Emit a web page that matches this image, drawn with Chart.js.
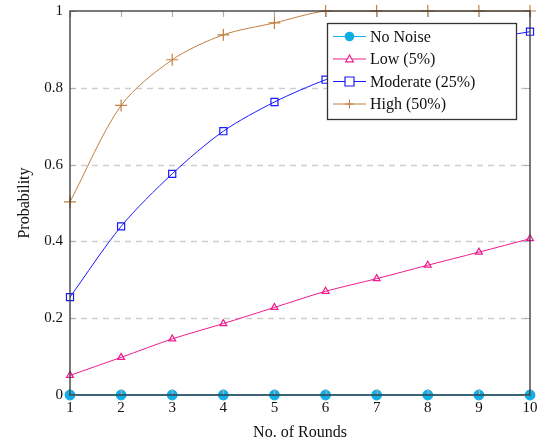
<!DOCTYPE html>
<html>
<head>
<meta charset="utf-8">
<script src="https://cdn.jsdelivr.net/npm/chart.js@4/dist/chart.umd.min.js"></script>
<style>
  html, body { margin: 0; padding: 0; background: #fff; }
  #wrap { width: 546px; height: 442px; }
</style>
</head>
<body>
<div id="wrap"><canvas id="c" width="546" height="442"></canvas></div>
<script>
// Rounds on the x axis
const rounds = [1, 2, 3, 4, 5, 6, 7, 8, 9, 10];

// Probability per round for each noise level
const noNoise  = [0, 0, 0, 0, 0, 0, 0, 0, 0, 0];
const lowNoise = [0.051, 0.098, 0.146, 0.186, 0.228, 0.270, 0.303, 0.338, 0.372, 0.407];
const modNoise = [0.255, 0.439, 0.576, 0.687, 0.763, 0.821, 0.865, 0.900, 0.925, 0.946];
const highNoise = [0.503, 0.754, 0.873, 0.938, 0.969, 1.0, 1.0, 1.0, 1.0, 1.0];

const seriesLabels = ['No Noise', 'Low (5%)', 'Moderate (25%)', 'High (50%)'];
const yTicks = [0, 0.2, 0.4, 0.6, 0.8, 1];

const FONT = '"Liberation Serif", "DejaVu Serif", serif';
const COLORS = {
  none: '#12aee8',
  low: '#ee1c8f',
  mod: '#1a1aff',
  high: '#c08040'
};

function pts(arr) { return arr.map((v, i) => ({ x: rounds[i], y: v })); }

// Draws a point-style glyph the same way in the legend
function drawMarker(ctx, style, x, y, color) {
  ctx.save();
  ctx.strokeStyle = color;
  ctx.fillStyle = color;
  ctx.lineWidth = 1.2;
  ctx.beginPath();
  if (style === 'circle') {
    ctx.arc(x, y, 4.8, 0, Math.PI * 2);
    ctx.fill();
  } else if (style === 'triangle') {
    ctx.moveTo(x, y - 4);
    ctx.lineTo(x + 3.8, y + 2.8);
    ctx.lineTo(x - 3.8, y + 2.8);
    ctx.closePath();
    ctx.fillStyle = '#fff';
    ctx.fill();
    ctx.stroke();
  } else if (style === 'rect') {
    ctx.rect(x - 4.5, y - 4.5, 9, 9);
    ctx.fillStyle = '#fff';
    ctx.fill();
    ctx.stroke();
  } else if (style === 'cross') {
    ctx.moveTo(x - 4.5, y); ctx.lineTo(x + 4.5, y);
    ctx.moveTo(x, y - 4.5); ctx.lineTo(x, y + 4.5);
    ctx.stroke();
  }
  ctx.restore();
}

// Dashed horizontal grid behind the series
const gridPlugin = {
  id: 'dashgrid',
  beforeDatasetsDraw(chart) {
    const { ctx, chartArea: a, scales } = chart;
    ctx.save();
    ctx.strokeStyle = '#cdcdcd';
    ctx.lineWidth = 1.5;
    ctx.setLineDash([6, 5]);
    ctx.beginPath();
    yTicks.filter(t => t > 0 && t < 1).forEach(t => {
      const y = Math.round(scales.y.getPixelForValue(t)) + 0.5;
      ctx.moveTo(a.left, y); ctx.lineTo(a.right, y);
    });
    ctx.stroke();
    ctx.restore();
  }
};

// Frame, inward ticks and the boxed legend
const framePlugin = {
  id: 'frame',
  afterDatasetsDraw(chart) {
    const { ctx, chartArea: a, scales } = chart;
    ctx.save();
    ctx.strokeStyle = '#b0b0b0';
    ctx.lineWidth = 1.2;
    ctx.beginPath();
    rounds.forEach(r => {
      const x = Math.round(scales.x.getPixelForValue(r)) + 0.5;
      ctx.moveTo(x, a.bottom); ctx.lineTo(x, a.bottom - 6);
      ctx.moveTo(x, a.top); ctx.lineTo(x, a.top + 6);
    });
    yTicks.forEach(t => {
      const y = Math.round(scales.y.getPixelForValue(t)) + 0.5;
      ctx.moveTo(a.left, y); ctx.lineTo(a.left + 6, y);
      ctx.moveTo(a.right, y); ctx.lineTo(a.right - 6, y);
    });
    ctx.stroke();
    ctx.strokeStyle = '#333';
    ctx.lineWidth = 1.3;
    ctx.strokeRect(a.left, a.top, a.right - a.left, a.bottom - a.top);

    // legend
    const lx = 327, ly = 23, lw = 189, lh = 96;
    ctx.fillStyle = '#fff';
    ctx.fillRect(lx, ly, lw, lh);
    ctx.strokeStyle = '#333';
    ctx.lineWidth = 1.3;
    ctx.strokeRect(lx + 0.5, ly + 0.5, lw, lh);
    ctx.font = '16px ' + FONT;
    ctx.textBaseline = 'middle';
    chart.data.datasets.forEach((ds, i) => {
      const y = ly + 13.5 + i * 22.5;
      ctx.strokeStyle = ds.borderColor;
      ctx.lineWidth = 1;
      ctx.beginPath();
      ctx.moveTo(lx + 6, y); ctx.lineTo(lx + 39, y);
      ctx.stroke();
      drawMarker(ctx, ds.pointStyle, lx + 22.5, y, ds.borderColor);
      ctx.fillStyle = '#111';
      ctx.fillText(ds.label, lx + 43, y + 1);
    });
    ctx.restore();
  }
};

function ds(label, data, color, style, extra) {
  return Object.assign({
    label,
    data: pts(data),
    borderColor: color,
    backgroundColor: style === 'circle' ? color : '#fff',
    pointBackgroundColor: style === 'circle' ? color : 'rgba(255,255,255,0)',
    pointBorderColor: color,
    pointStyle: style,
    pointRadius: style === 'circle' ? 4.8 : 5,
    pointBorderWidth: 1.2,
    borderWidth: 1,
    tension: 0.3,
    clip: 8
  }, extra || {});
}

new Chart(document.getElementById('c'), {
  type: 'line',
  data: {
    datasets: [
      ds(seriesLabels[0], noNoise, COLORS.none, 'circle', { borderWidth: 1.3 }),
      ds(seriesLabels[1], lowNoise, COLORS.low, 'triangle', { pointRadius: 4 }),
      ds(seriesLabels[2], modNoise, COLORS.mod, 'rect'),
      ds(seriesLabels[3], highNoise, COLORS.high, 'cross', { pointRadius: 6 })
    ]
  },
  options: {
    responsive: false,
    animation: false,
    layout: { padding: { left: 0, right: 16, top: 11, bottom: 0 } },
    plugins: { legend: { display: false }, tooltip: { enabled: false } },
    scales: {
      x: {
        type: 'linear',
        min: 1, max: 10,
        afterFit(s) { s.height = 47; s.paddingLeft = 0; s.paddingRight = 0; },
        afterBuildTicks(s) { s.ticks = rounds.map(v => ({ value: v })); },
        grid: { display: false, drawTicks: false },
        border: { display: false },
        ticks: {
          color: '#111',
          font: { family: FONT, size: 15 },
          padding: 4,
          maxRotation: 0,
          callback: v => String(v)
        },
        title: {
          display: true,
          text: 'No. of Rounds',
          color: '#111',
          font: { family: FONT, size: 16 },
          padding: { top: 2, bottom: 0 }
        }
      },
      y: {
        min: 0, max: 1,
        afterFit(s) { s.width = 70; s.paddingTop = 0; s.paddingBottom = 0; },
        afterBuildTicks(s) { s.ticks = yTicks.map(v => ({ value: v })); },
        grid: { display: false, drawTicks: false },
        border: { display: false },
        ticks: {
          color: '#111',
          font: { family: FONT, size: 15 },
          padding: 7,
          callback: v => String(v)
        },
        title: {
          display: true,
          text: 'Probability',
          color: '#111',
          font: { family: FONT, size: 16 },
          padding: { top: 15, bottom: 0 }
        }
      }
    }
  },
  plugins: [gridPlugin, framePlugin]
});
</script>
</body>
</html>
